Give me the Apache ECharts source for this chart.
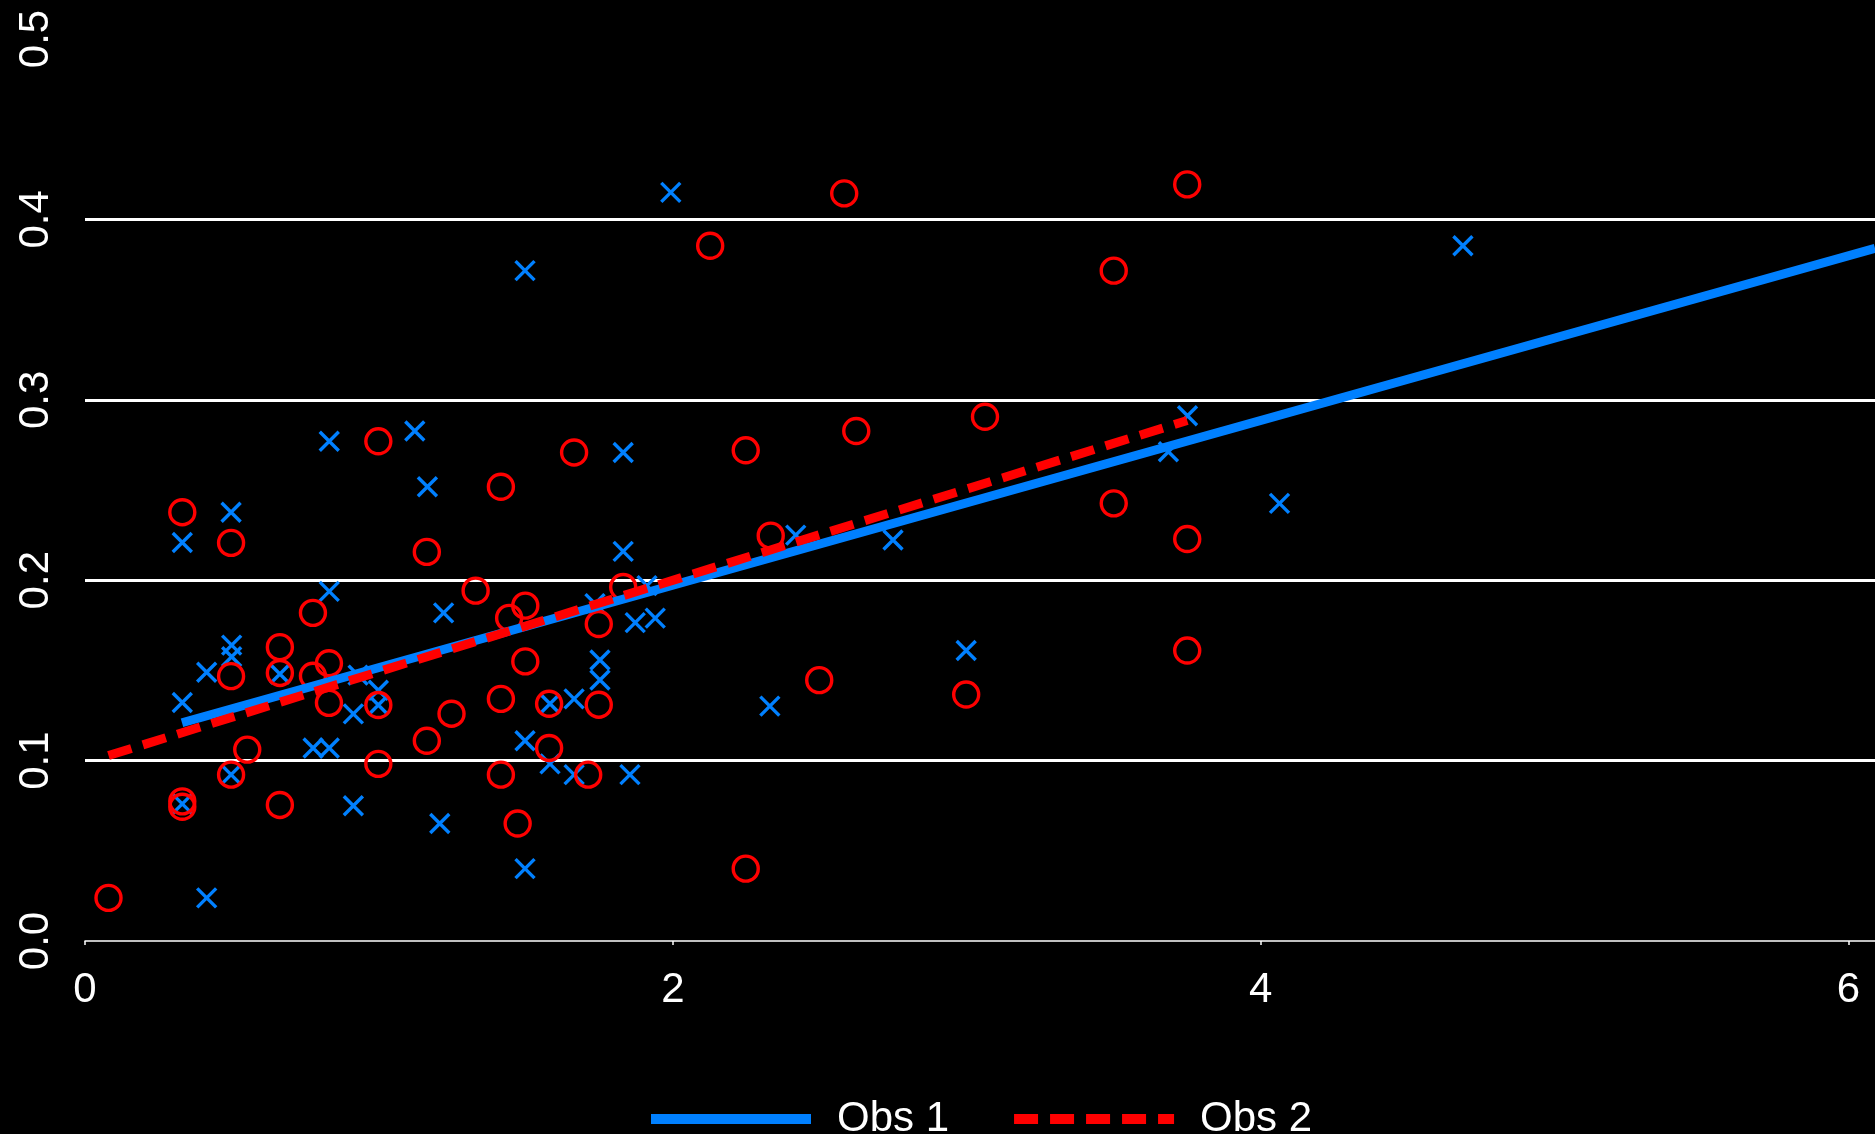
<!DOCTYPE html>
<html>
<head>
<meta charset="utf-8">
<script src="https://cdn.jsdelivr.net/npm/echarts@6/dist/echarts.min.js"></script>
<style>
html,body{margin:0;padding:0;background:#000;}
#chart{width:1875px;height:1134px;}
</style>
</head>
<body>
<div id="chart"></div>
<script>
// ---- data ----
const seriesNames = ['Obs 1', 'Obs 2'];

const obs1X = [0.331,0.331,0.331,0.414,0.414,0.497,0.499,0.499,0.497,0.663,0.776,0.831,0.831,0.831,0.913,0.913,0.929,0.998,0.998,1.122,1.165,1.207,1.220,1.497,1.497,1.497,1.582,1.582,1.664,1.664,1.735,1.752,1.752,1.831,1.831,1.854,1.872,1.912,1.940,1.993,2.330,2.418,2.749,2.998,3.686,3.751,4.064,4.688];
const obs1Y = [0.2209,0.1322,0.0760,0.1490,0.0239,0.2377,0.1640,0.1576,0.0922,0.1480,0.1070,0.1070,0.2770,0.1938,0.1259,0.0750,0.1474,0.1390,0.1308,0.2827,0.2518,0.0651,0.1819,0.3716,0.1110,0.0401,0.1315,0.0982,0.1342,0.0922,0.1870,0.1558,0.1447,0.2708,0.2160,0.0922,0.1765,0.1970,0.1790,0.4150,0.1302,0.2250,0.2223,0.1610,0.2712,0.2912,0.2426,0.3854];

const obs2X = [0.080,0.331,0.331,0.331,0.497,0.497,0.497,0.552,0.663,0.663,0.663,0.7755,0.7755,0.830,0.830,0.998,0.998,0.998,1.163,1.163,1.247,1.329,1.415,1.415,1.415,1.443,1.472,1.498,1.498,1.579,1.579,1.664,1.712,1.748,1.748,1.831,2.127,2.248,2.248,2.333,2.498,2.583,2.624,2.998,3.062,3.500,3.500,3.750,3.750,3.750];
const obs2Y = [0.0239,0.2377,0.0774,0.0744,0.2207,0.1468,0.0922,0.1061,0.1629,0.1486,0.0754,0.1819,0.1470,0.1540,0.1320,0.2770,0.1308,0.0982,0.2157,0.1110,0.1260,0.1942,0.2518,0.1342,0.0922,0.1791,0.0651,0.1859,0.1550,0.1315,0.1070,0.2708,0.0922,0.1757,0.1310,0.1962,0.3854,0.2720,0.0401,0.2247,0.1446,0.4144,0.2827,0.1366,0.2906,0.3716,0.2426,0.4194,0.2228,0.1610];

// fitted lines (end points)
const fit1X = [0.33, 6.09];
const fit1Y = [0.121, 0.384];
const fit2X = [0.08, 3.75];
const fit2Y = [0.1028, 0.2885];

const xTickLabels = ['0', '2', '4', '6'];
const yTickLabels = ['0.0', '0.1', '0.2', '0.3', '0.4', '0.5'];

// ---- build ----
const zip = (xs, ys) => xs.map((x, i) => [x, ys[i]]);
const FONT = 'Liberation Sans, Arial, sans-serif';
const BLUE = '#0080ff';
const RED = '#ff0000';

const chart = echarts.init(document.getElementById('chart'), null, {renderer: 'canvas'});
chart.setOption({
  backgroundColor: '#000000',
  animation: false,
  textStyle: {fontFamily: FONT, color: '#ffffff'},
  grid: {left: 85, right: 0, top: 39, bottom: 193, outerBoundsMode: 'none', containLabel: false},
  legend: {
    data: seriesNames,
    left: 641,
    top: 1093,
    itemWidth: 160,
    itemHeight: 20,
    itemGap: 60,
    itemStyle: {opacity: 0},
    lineStyle: {width: 10, cap: 'butt'},
    textStyle: {color: '#ffffff', fontSize: 42, fontFamily: FONT, padding: [0, 0, 0, 21]},
    selectedMode: false
  },
  xAxis: {
    type: 'value',
    min: 0,
    max: 6.09,
    interval: 2,
    axisLine: {show: true, lineStyle: {color: '#ffffff', width: 1.5}},
    axisTick: {show: true, length: 4, lineStyle: {color: '#ffffff', width: 1.5}},
    splitLine: {show: false},
    axisLabel: {
      color: '#ffffff', fontSize: 42, fontFamily: FONT, margin: 28,
      showMaxLabel: false,
      formatter: v => { const s = String(Math.round(v * 1000) / 1000); return xTickLabels.includes(s) ? s : ''; }
    }
  },
  yAxis: {
    type: 'value',
    min: 0,
    max: 0.5,
    interval: 0.1,
    axisLine: {show: false},
    axisTick: {show: false},
    splitLine: {show: true, showMinLine: false, showMaxLine: false, lineStyle: {color: '#ffffff', width: 3}},
    axisLabel: {
      color: '#ffffff', fontSize: 42, fontFamily: FONT, margin: 28, rotate: 90,
      formatter: (v) => yTickLabels[Math.round(v * 10)]
    }
  },
  series: [
    {
      name: 'Obs 1 points', type: 'scatter', z: 2,
      data: zip(obs1X, obs1Y),
      symbol: 'path://M0,0L10,10M10,0L0,10',
      symbolSize: 19,
      itemStyle: {color: 'transparent', borderColor: BLUE, borderWidth: 3.4, opacity: 1},
      emphasis: {disabled: true}, silent: true
    },
    {
      name: 'Obs 2 points', type: 'scatter', z: 3,
      data: zip(obs2X, obs2Y),
      symbol: 'circle',
      symbolSize: 25,
      itemStyle: {color: 'transparent', borderColor: RED, borderWidth: 3.4, opacity: 1},
      emphasis: {disabled: true}, silent: true
    },
    {
      name: seriesNames[0], type: 'line', z: 4,
      data: zip(fit1X, fit1Y),
      symbol: 'none', showSymbol: false,
      lineStyle: {color: BLUE, width: 9, type: 'solid', cap: 'butt'},
      itemStyle: {color: BLUE},
      emphasis: {disabled: true}, silent: true
    },
    {
      name: seriesNames[1], type: 'line', z: 5,
      data: zip(fit2X, fit2Y),
      symbol: 'none', showSymbol: false,
      lineStyle: {color: RED, width: 9, type: [24, 12], cap: 'butt'},
      itemStyle: {color: RED},
      emphasis: {disabled: true}, silent: true
    }
  ]
});
</script>
</body>
</html>
